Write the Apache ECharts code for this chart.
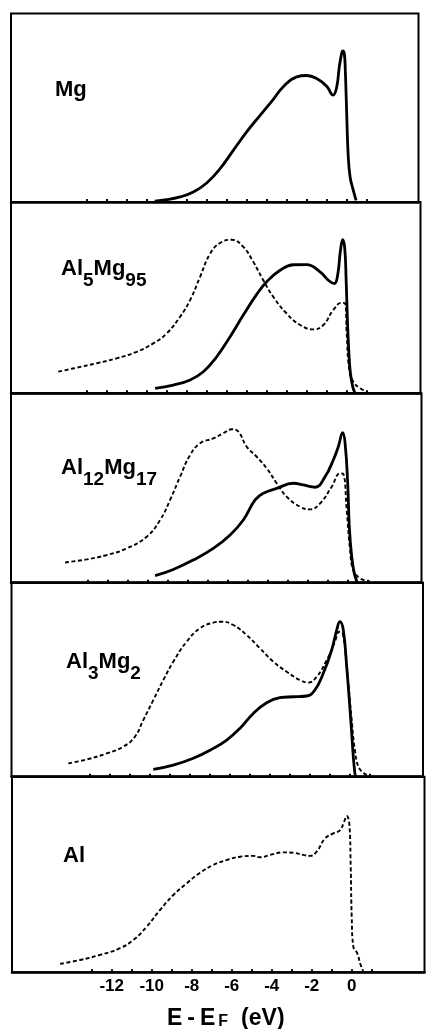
<!DOCTYPE html>
<html>
<head>
<meta charset="utf-8">
<script src="https://cdn.jsdelivr.net/npm/echarts@6/dist/echarts.min.js"></script>
<style>
  html, body { margin: 0; padding: 0; background: #fff; }
  #chart { width: 426px; height: 1029px; }
</style>
</head>
<body>
<div id="chart"></div>
<script>
// Energy axis (eV relative to the Fermi level)
const xTicks = [-13, -12, -11, -10, -9, -8, -7, -6, -5, -4, -3, -2, -1, 0, 1];
const xTickLabels = [-12, -10, -8, -6, -4, -2, 0];

// Spectra: [E - E_F (eV), intensity (arb. units)]
const mgSolid = [
  [-9.6, 0.05], [-9.0, 0.12], [-8.33, 0.27], [-7.67, 0.53], [-7.0, 1.01], [-6.33, 1.77],
  [-5.67, 2.74], [-5.0, 3.72], [-4.33, 4.6], [-3.67, 5.45], [-3.17, 6.12], [-2.5, 6.64],
  [-2.0, 6.71], [-1.5, 6.55], [-1.0, 6.14], [-0.68, 5.67], [-0.5, 6.1], [-0.37, 7.17],
  [-0.25, 7.9], [-0.2, 8.02], [-0.12, 7.88], [-0.07, 6.99], [0, 4.69], [0.07, 2.57],
  [0.17, 1.33], [0.33, 0.62], [0.47, 0.09]
];

const al5mg95Solid = [
  [-9.58, 0.26], [-8.67, 0.43], [-7.83, 0.7], [-7.17, 1.13], [-6.5, 1.91], [-5.83, 2.96],
  [-5.17, 4.09], [-4.5, 5.17], [-4.0, 5.83], [-3.33, 6.43], [-2.67, 6.72], [-2.0, 6.73],
  [-1.33, 6.35], [-0.92, 5.91], [-0.62, 5.74], [-0.45, 6.2], [-0.32, 7.4], [-0.2, 8.03],
  [-0.1, 7.6], [-0.03, 6.0], [0.03, 4.0], [0.1, 2.3], [0.18, 1.1], [0.3, 0.35], [0.42, 0]
];
const al5mg95Dashed = [
  [-14.42, 1.13], [-13.5, 1.34], [-12.5, 1.57], [-11.5, 1.83], [-10.5, 2.17], [-9.67, 2.61],
  [-9.0, 3.13], [-8.33, 4.0], [-7.83, 4.87], [-7.33, 6.09], [-6.83, 7.3], [-6.33, 7.86],
  [-5.75, 8.03], [-5.17, 7.65], [-4.67, 6.87], [-4.17, 5.91], [-3.67, 5.04], [-3.0, 4.17],
  [-2.33, 3.57], [-1.67, 3.34], [-1.17, 3.57], [-0.67, 4.35], [-0.25, 4.73], [-0.08, 4.7],
  [0, 3.13], [0.13, 1.22], [0.33, 0.61], [0.67, 0.26], [1.0, 0.09]
];

const al12mg17Solid = [
  [-9.63, 0.37], [-8.72, 0.7], [-7.72, 1.2], [-6.72, 1.81], [-5.88, 2.52], [-5.22, 3.31],
  [-4.63, 4.37], [-4.22, 4.72], [-3.55, 4.98], [-2.72, 5.25], [-2.22, 5.16], [-1.63, 5.04],
  [-1.13, 5.6], [-0.72, 6.48], [-0.47, 7.18], [-0.25, 7.92], [-0.13, 7.36], [0, 5.25],
  [0.08, 2.96], [0.2, 1.37], [0.33, 0.49], [0.48, 0]
];
const al12mg17Dashed = [
  [-14.13, 1.07], [-13.05, 1.23], [-12.05, 1.46], [-11.05, 1.81], [-10.05, 2.43], [-9.38, 3.31],
  [-8.88, 4.37], [-8.38, 5.6], [-7.88, 6.74], [-7.38, 7.36], [-6.72, 7.62], [-6.22, 7.89],
  [-5.8, 8.1], [-5.47, 7.98], [-5.05, 7.18], [-4.55, 6.65], [-4.05, 6.04], [-3.55, 5.25],
  [-3.05, 4.54], [-2.38, 4.01], [-1.88, 3.87], [-1.38, 4.19], [-0.8, 5.07], [-0.38, 5.77],
  [-0.22, 5.74], [-0.05, 3.84], [0.12, 1.73], [0.28, 0.67], [0.62, 0.23], [1.12, 0.05]
];

const al3mg2Solid = [
  [-9.8, 0.38], [-8.8, 0.6], [-7.8, 0.95], [-6.8, 1.46], [-6.13, 1.89], [-5.47, 2.49],
  [-4.8, 3.26], [-4.13, 3.81], [-3.47, 4.07], [-2.8, 4.12], [-2.13, 4.16], [-1.72, 4.47],
  [-1.3, 5.33], [-0.88, 6.53], [-0.63, 7.56], [-0.47, 7.99], [-0.3, 7.56], [-0.13, 5.67],
  [0, 3.95], [0.12, 2.24], [0.2, 1.03], [0.28, 0.17], [0.32, 0]
];
const al3mg2Dashed = [
  [-14.05, 0.69], [-13.13, 0.89], [-12.13, 1.2], [-11.3, 1.55], [-10.72, 2.06], [-10.3, 2.92],
  [-9.8, 3.95], [-9.3, 4.98], [-8.8, 5.93], [-8.13, 6.96], [-7.47, 7.65], [-6.8, 7.94],
  [-6.38, 7.99], [-5.8, 7.82], [-5.13, 7.3], [-4.47, 6.62], [-3.8, 5.93], [-3.13, 5.41],
  [-2.47, 4.98], [-2.05, 4.85], [-1.63, 5.15], [-1.13, 6.01], [-0.72, 6.96], [-0.5, 7.47],
  [-0.33, 7.39], [-0.13, 5.67], [0.12, 2.92], [0.28, 1.37], [0.5, 0.43], [0.87, 0.09]
];

const alDashed = [
  [-14.58, 0.43], [-13.58, 0.63], [-12.58, 0.89], [-11.58, 1.23], [-10.92, 1.65], [-10.25, 2.33],
  [-9.58, 3.19], [-8.92, 3.95], [-8.25, 4.55], [-7.58, 5.09], [-6.92, 5.49], [-6.25, 5.74],
  [-5.58, 5.91], [-4.92, 5.95], [-4.58, 5.88], [-4.08, 6.0], [-3.42, 6.13], [-2.92, 6.11],
  [-2.42, 6.0], [-2.08, 5.95], [-1.75, 6.17], [-1.33, 6.85], [-0.92, 7.1], [-0.58, 7.27],
  [-0.38, 7.7], [-0.25, 7.99], [-0.12, 7.61], [-0.05, 5.4], [0, 2.84], [0.08, 1.31],
  [0.28, 0.97], [0.42, 0.46], [0.58, 0.03]
];

// Panel contents, top to bottom
const panels = [
  { label: '{m|Mg}', solid: mgSolid, dashed: null },
  { label: '{m|Al}{s|5}{m|Mg}{s|95}', solid: al5mg95Solid, dashed: al5mg95Dashed },
  { label: '{m|Al}{s|12}{m|Mg}{s|17}', solid: al12mg17Solid, dashed: al12mg17Dashed },
  { label: '{m|Al}{s|3}{m|Mg}{s|2}', solid: al3mg2Solid, dashed: al3mg2Dashed },
  { label: '{m|Al}', solid: null, dashed: alDashed }
];

// Frame geometry of each panel in pixels (zero = x pixel of E_F)
const frames = [
  { top: 13.5, bottom: 202,   left: 11,   right: 418.5, zero: 346.7, labelX: 55,   labelY: 79 },
  { top: 202,  bottom: 393.3, left: 11,   right: 420.5, zero: 346.7, labelX: 61,   labelY: 258 },
  { top: 393.3,bottom: 582.7, left: 11,   right: 421.5, zero: 347.7, labelX: 61,   labelY: 457 },
  { top: 582.7,bottom: 776.7, left: 11.5, right: 423,   zero: 349.3, labelX: 66,   labelY: 651 },
  { top: 776.7,bottom: 972.3, left: 12,   right: 424.5, zero: 351.7, labelX: 63,   labelY: 845 }
];
const PX_PER_EV = 20;
const FONT = '"Liberation Sans", Arial, Helvetica, sans-serif';

const grid = [], xAxis = [], yAxis = [], series = [], graphic = [];
const last = panels.length - 1;

panels.forEach((p, i) => {
  const f = frames[i];
  grid.push({
    left: f.left, top: f.top, width: f.right - f.left, height: f.bottom - f.top,
    show: true, borderColor: '#000', borderWidth: 2, backgroundColor: 'transparent',
    containLabel: false
  });
  xAxis.push({
    type: 'value', gridIndex: i,
    min: (f.left - f.zero) / PX_PER_EV,
    max: (f.right - f.zero) / PX_PER_EV,
    axisLine: { show: true, lineStyle: { color: '#000', width: 2.5 } },
    axisTick: { show: true, inside: true, length: 3, customValues: xTicks,
                lineStyle: { color: '#000', width: 2 } },
    axisLabel: { show: i === last, customValues: xTickLabels, margin: 6,
                 color: '#000', fontSize: 17, fontWeight: 'bold', fontFamily: FONT },
    splitLine: { show: false }
  });
  yAxis.push({ type: 'value', gridIndex: i, min: 0, max: 10, show: false });

  if (p.dashed) {
    series.push({
      type: 'line', xAxisIndex: i, yAxisIndex: i, data: p.dashed,
      showSymbol: false, smooth: 0.45, silent: true,
      lineStyle: { color: '#000', width: 1.9, type: [4, 2.5] }
    });
  }
  if (p.solid) {
    series.push({
      type: 'line', xAxisIndex: i, yAxisIndex: i, data: p.solid,
      showSymbol: false, smooth: 0.45, silent: true,
      lineStyle: { color: '#000', width: 2.8 }
    });
  }

  graphic.push({
    type: 'text', left: f.labelX, top: f.labelY, silent: true,
    style: {
      text: p.label, fill: '#000',
      rich: {
        m: { fontSize: 22, fontWeight: 'bold', fontFamily: FONT, padding: [0, 0, 10, 0], verticalAlign: 'top' },
        s: { fontSize: 19, fontWeight: 'bold', fontFamily: FONT, verticalAlign: 'bottom' }
      }
    }
  });
});

// Axis title: E - E_F (eV)
graphic.push({
  type: 'text', left: 167, top: 1007, silent: true,
  style: {
    text: '{m|E}{d|-}{m|E}{s|F}{p|(eV)}', fill: '#000',
    rich: {
      m: { fontSize: 23, fontWeight: 'bold', fontFamily: FONT, verticalAlign: 'bottom' },
      d: { fontSize: 23, fontWeight: 'bold', fontFamily: FONT, padding: [0, 5, 0, 5], verticalAlign: 'bottom' },
      s: { fontSize: 16, fontWeight: 'bold', fontFamily: FONT, padding: [0, 0, 0, 3], verticalAlign: 'bottom' },
      p: { fontSize: 23, fontWeight: 'bold', fontFamily: FONT, padding: [0, 0, 0, 13], verticalAlign: 'bottom' }
    }
  }
});

const chart = echarts.init(document.getElementById('chart'), null, { renderer: 'canvas' });
chart.setOption({
  backgroundColor: '#fff',
  animation: false,
  grid, xAxis, yAxis, series, graphic
});
</script>
</body>
</html>
